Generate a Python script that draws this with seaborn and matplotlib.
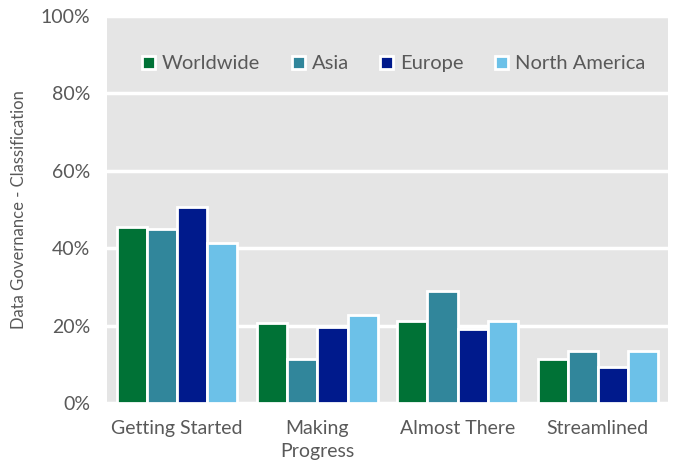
import matplotlib
matplotlib.use("Agg")
import matplotlib.pyplot as plt
import seaborn as sns
import pandas as pd
from matplotlib.ticker import PercentFormatter

stages = ["Getting Started", "Making\nProgress", "Almost There", "Streamlined"]
regions = ["Worldwide", "Asia", "Europe", "North America"]
worldwide = [45.5, 20.7, 21.3, 11.4]
asia = [45.0, 11.4, 29.0, 13.5]
europe = [50.7, 19.6, 19.2, 9.4]
north_america = [41.4, 22.8, 21.3, 13.5]
palette = ["#007236", "#31869B", "#001A8C", "#6CC1E8"]

df = pd.DataFrame({
    "stage": stages * 4,
    "region": [r for r in regions for _ in stages],
    "value": worldwide + asia + europe + north_america,
})

sns.set_theme(style="darkgrid")
plt.rcParams["font.family"] = ["Lato", "DejaVu Sans"]
text_color = "#595959"

fig = plt.figure(figsize=(6.73, 4.70), dpi=100)
ax = fig.add_axes([107 / 673, 67 / 470, 561 / 673, 387 / 470])
ax.set_facecolor("#E5E5E5")

sns.barplot(data=df, x="stage", y="value", hue="region", palette=palette,
            saturation=1, width=0.86, edgecolor="white", linewidth=2, ax=ax, legend=True)

ax.set_ylim(0, 100)
ax.set_yticks([0, 20, 40, 60, 80, 100])
ax.yaxis.set_major_formatter(PercentFormatter(decimals=0))
ax.grid(axis="y", color="white", linewidth=2.5)
ax.grid(axis="x", visible=False)
ax.set_axisbelow(True)
for s in ax.spines.values():
    s.set_visible(False)
ax.tick_params(axis="both", length=0, labelsize=14, labelcolor=text_color)
ax.tick_params(axis="y", pad=12)
ax.tick_params(axis="x", pad=12)
for lbl in ax.get_xticklabels():
    lbl.set_linespacing(1.45)
ax.set_xlabel("")
ax.set_ylabel("Data Governance - Classification", fontsize=12, color=text_color, labelpad=10)

leg = ax.legend(loc="upper center", bbox_to_anchor=(0.511, 0.945), ncol=4, frameon=False,
                fontsize=14.5, handlelength=0.65, handleheight=0.65, handletextpad=0.35,
                columnspacing=1.55)
for t in leg.get_texts():
    t.set_color(text_color)

fig.savefig("out.png", dpi=100)
